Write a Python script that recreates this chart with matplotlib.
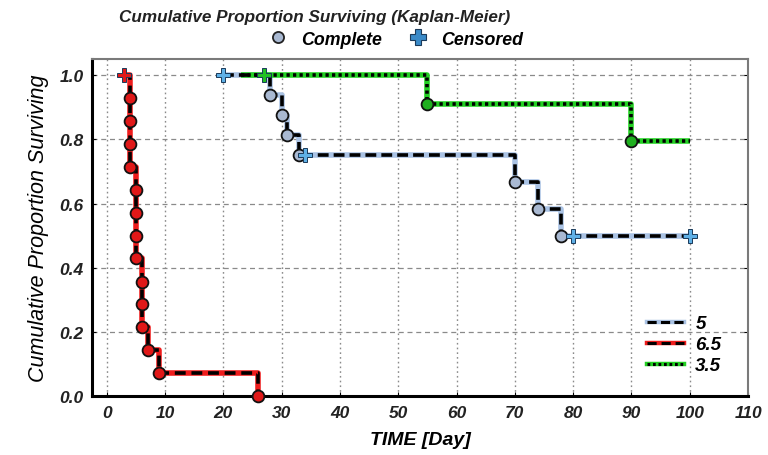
import numpy as np
import matplotlib
matplotlib.use('Agg')
import matplotlib.pyplot as plt
from matplotlib.lines import Line2D

plt.rcParams['font.family'] = ['Liberation Sans', 'DejaVu Sans']

# series "5"  (status: c = complete, x = censored)
t_5 = [20, 28, 30, 31, 33, 34, 70, 74, 78, 80, 100]
s_5 = [1.0, 0.9375, 0.875, 0.8125, 0.75, 0.75, 0.667, 0.583, 0.5, 0.5, 0.5]
st_5 = ['x', 'c', 'c', 'c', 'c', 'x', 'c', 'c', 'c', 'x', 'x']

# series "6.5"
t_65 = [3, 4, 4, 4, 4, 5, 5, 5, 5, 6, 6, 6, 7, 9, 26]
s_65 = [1.0, 0.929, 0.857, 0.786, 0.714, 0.643, 0.571, 0.5, 0.429,
        0.357, 0.286, 0.214, 0.143, 0.071, 0.0]
st_65 = ['x', 'c', 'c', 'c', 'c', 'c', 'c', 'c', 'c', 'c', 'c', 'c', 'c', 'c', 'c']

# series "3.5"
t_35 = [23, 27, 55, 90, 100]
s_35 = [1.0, 1.0, 0.909, 0.795, 0.795]
st_35 = ['n', 'x', 'c', 'c', 'n']

series = [
    ('5', t_5, s_5, st_5, '#a9c2e4', '#a9b9d2', '#5fb0e6', (0, (3.0, 1.4))),
    ('6.5', t_65, s_65, st_65, '#ee1c1c', '#e01818', '#e01818', (0, (3.0, 1.6))),
    ('3.5', t_35, s_35, st_35, '#22d022', '#1fb01f', '#22c022', (0, (0.9, 0.9))),
]

fig = plt.figure(figsize=(7.68, 4.56), dpi=100)
ax = fig.add_axes([0.12, 0.129, 0.854, 0.739])

handles = []
for name, t, s, st, lc, mc, pc, ls in series:
    t = np.array(t, dtype=float)
    s = np.array(s)
    # step line: x(i) -> x(i+1) at s(i), then drop
    xs, ys = [t[0]], [s[0]]
    for i in range(1, len(t)):
        xs += [t[i], t[i]]
        ys += [s[i - 1], s[i]]
    ax.plot(xs, ys, color=lc, lw=4.0, solid_capstyle='butt', zorder=3)
    ax.plot(xs, ys, color='black', lw=2.6, linestyle=ls, zorder=4)
    st = np.array(st)
    ax.plot(t[st == 'c'], s[st == 'c'], 'o', ms=8.5, mfc=mc, mec='#111111',
            mew=1.3, zorder=5, clip_on=False)
    ax.plot(t[st == 'x'], s[st == 'x'], 'P', ms=10, mfc=pc, mec='#1a3a5a',
            mew=0.7, zorder=5, clip_on=False)
    h_base = Line2D([], [], color=lc, lw=3.2)
    h_top = Line2D([], [], color='black', lw=2.2, linestyle=ls)
    handles.append((h_base, h_top))

ax.set_xlim(-2.5, 110)
ax.set_ylim(0, 1.05)
ax.set_xticks(np.arange(0, 111, 10))
ax.set_yticks(np.arange(0, 1.01, 0.2))
ax.set_yticklabels(['%.1f' % v for v in np.arange(0, 1.01, 0.2)])

ax.yaxis.grid(True, color='#8a8a8a', linestyle=(0, (4, 3)), lw=0.9)
ax.xaxis.grid(True, color='#8a8a8a', linestyle=(0, (1.2, 2.2)), lw=1.0)
ax.set_axisbelow(True)

for sp in ['left', 'bottom']:
    ax.spines[sp].set_linewidth(2.2)
    ax.spines[sp].set_color('black')
for sp in ['top', 'right']:
    ax.spines[sp].set_linewidth(1.5)
    ax.spines[sp].set_color('#7a7a7a')

ax.tick_params(direction='in', length=3, right=True, labelsize=12.5, pad=6)
for lab in ax.get_xticklabels() + ax.get_yticklabels():
    lab.set_fontweight('bold')
    lab.set_fontstyle('italic')
    lab.set_color('#222222')

ax.set_xlabel('TIME [Day]', fontsize=14, fontweight='bold', fontstyle='italic', labelpad=8)
ax.set_ylabel('Cumulative Proportion Surviving', fontsize=15.5, fontstyle='italic',
              labelpad=8)

leg = ax.legend(handles, [s[0] for s in series], loc='lower right',
                bbox_to_anchor=(0.985, 0.015), frameon=False, handlelength=2.0,
                labelspacing=0.2, handletextpad=0.6,
                prop={'weight': 'bold', 'style': 'italic', 'size': 13.5})

fig.text(0.41, 0.962, 'Cumulative Proportion Surviving (Kaplan-Meier)', ha='center',
         va='center', fontsize=12.3, fontweight='bold', fontstyle='italic', color='#222222')
top_handles = [
    Line2D([], [], marker='o', ls='none', ms=8, mfc='#a9b9d2', mec='#222222', mew=1.3),
    Line2D([], [], marker='P', ls='none', ms=11, mfc='#3a8ac8', mec='#1a3a5a', mew=0.8),
]
fig.legend(top_handles, ['Complete', 'Censored'], loc='center', ncol=2,
           bbox_to_anchor=(0.51, 0.912), frameon=False, handletextpad=0.3,
           columnspacing=1.0, prop={'weight': 'bold', 'style': 'italic', 'size': 12.8})

fig.savefig('out.png', dpi=100)
